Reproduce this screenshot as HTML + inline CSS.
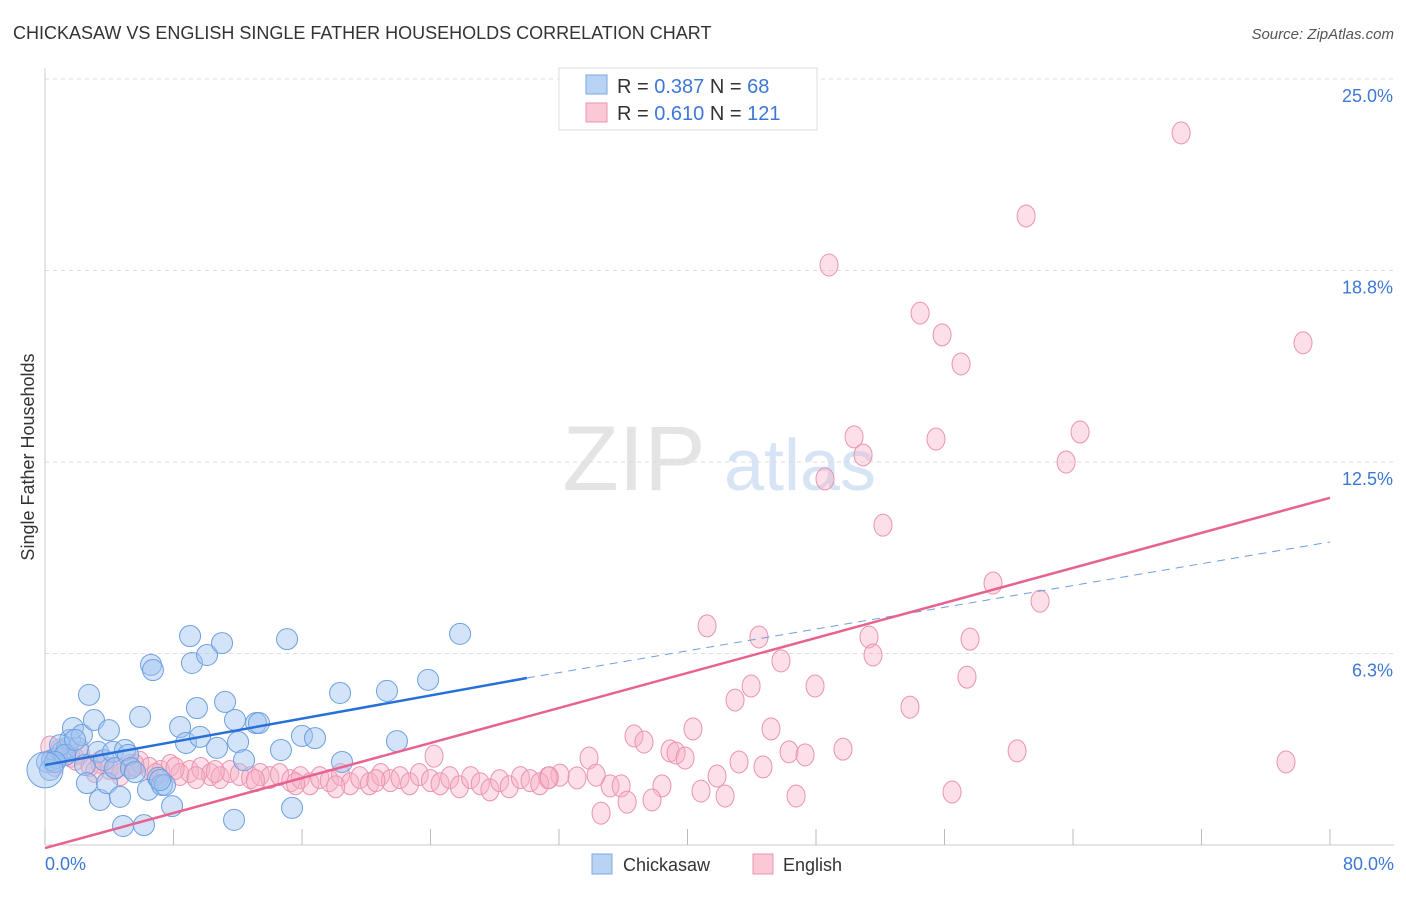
<!DOCTYPE html>
<html><head><meta charset="utf-8"><style>
body{margin:0;background:#fff;font-family:"Liberation Sans",sans-serif}
svg text{font-family:"Liberation Sans",sans-serif}
</style></head><body>
<svg id="chart" width="1406" height="892" viewBox="0 0 1406 892" xmlns="http://www.w3.org/2000/svg">
<text x="13" y="39" font-size="18" fill="#333">CHICKASAW VS ENGLISH SINGLE FATHER HOUSEHOLDS CORRELATION CHART</text>
<text x="1394" y="39" font-size="15" fill="#555" text-anchor="end" font-style="italic">Source: ZipAtlas.com</text>
<g>
<text x="634" y="490" font-size="92" fill="#e4e4e4" text-anchor="middle" font-family="Liberation Serif,serif">ZIP</text>
<text x="800" y="490" font-size="72" fill="#d6e4f6" text-anchor="middle">atlas</text>
</g>
<g id="grid"></g>
<g id="axes"></g>
<g id="pts"></g>
<g id="lines"></g>
<text transform="translate(34,457) rotate(-90)" font-size="18" fill="#333" text-anchor="middle">Single Father Households</text>
<g>
<rect x="559" y="68" width="258" height="62" fill="#fff" stroke="#ddd"/>
<rect x="586" y="75" width="21" height="19" fill="#b9d3f5" stroke="#7ba7e3"/>
<rect x="586" y="103" width="21" height="19" fill="#fbc8d6" stroke="#eb94b0"/>
<text x="617" y="93" font-size="20" fill="#333">R = <tspan fill="#3d78d6">0.387</tspan>   N =  <tspan fill="#3d78d6">68</tspan></text>
<text x="617" y="120" font-size="20" fill="#333">R = <tspan fill="#3d78d6">0.610</tspan>   N = <tspan fill="#3d78d6">121</tspan></text>
</g>
<g>
<rect x="592" y="854" width="20" height="20" fill="#b9d3f5" stroke="#7ba7e3"/>
<text x="623" y="871" font-size="18" fill="#333">Chickasaw</text>
<rect x="753" y="854" width="20" height="20" fill="#fbc8d6" stroke="#eb94b0"/>
<text x="783" y="871" font-size="18" fill="#333">English</text>
</g>
</svg>
<script>
const xTicks=[0,8,16,24,32,40,48,56,64,72,80];
const yTicks=[6.25,12.5,18.75,25];
const yTickLabels=["6.3%","12.5%","18.8%","25.0%"];
const xEndLabels=["0.0%","80.0%"];
const chickasaw=[[0.12,2.71],[0.44,2.77],[0.75,2.84],[1.06,3.04],[1.37,3.17],[1.56,3.43],[1.74,3.82],[2.05,3.17],[2.30,3.59],[2.49,2.61],[2.61,2.02],[2.74,4.90],[3.05,4.08],[3.30,3.04],[3.42,1.47],[3.67,2.77],[3.86,2.02],[3.98,3.75],[4.23,3.04],[4.36,2.51],[4.67,1.57],[4.86,0.62],[4.98,3.10],[5.17,2.94],[5.35,2.51],[5.60,2.38],[5.92,4.18],[6.16,0.65],[6.41,1.80],[6.60,5.88],[6.72,5.71],[7.04,2.19],[7.28,1.96],[7.47,1.96],[7.91,1.27],[8.41,3.85],[8.78,3.33],[9.03,6.82],[9.15,5.94],[9.46,4.47],[9.65,3.53],[10.09,6.20],[10.71,3.17],[11.02,6.59],[11.21,4.67],[11.83,4.08],[12.02,3.36],[11.77,0.82],[12.39,2.77],[13.14,3.98],[13.32,3.98],[14.69,3.10],[15.07,6.72],[15.38,1.21],[16.00,3.56],[16.81,3.49],[18.37,4.96],[18.49,2.71],[21.29,5.03],[21.91,3.39],[23.85,5.39],[25.84,6.89],[0.31,2.45],[0.93,3.26],[1.25,2.94],[1.87,3.43],[0.62,2.71],[7.16,2.12]];
const english=[[70.73,23.24],[61.08,20.53],[48.81,18.93],[54.48,17.36],[55.85,16.65],[57.03,15.70],[78.32,16.39],[50.37,13.32],[55.47,13.25],[64.44,13.48],[50.93,12.73],[63.57,12.50],[48.56,11.95],[52.17,10.44],[59.02,8.55],[61.95,7.96],[41.22,7.15],[44.45,6.79],[51.30,6.79],[57.59,6.72],[51.55,6.20],[45.82,6.01],[57.40,5.48],[43.96,5.19],[47.94,5.19],[42.96,4.73],[53.85,4.50],[40.34,3.79],[45.20,3.79],[36.67,3.56],[37.29,3.36],[38.91,3.07],[39.29,3.00],[39.85,2.84],[46.32,3.04],[47.32,2.94],[49.68,3.13],[60.52,3.07],[77.26,2.71],[33.87,2.84],[43.21,2.71],[44.70,2.55],[41.84,2.25],[38.41,1.93],[40.84,1.76],[42.34,1.60],[46.76,1.60],[56.47,1.73],[35.18,1.93],[35.87,1.93],[36.24,1.40],[37.79,1.47],[34.62,1.04],[24.22,2.90],[34.31,2.28],[33.12,2.19],[32.06,2.28],[31.32,2.19],
[0.3,3.2],[0.9,3.1],[1.6,2.9],[2.2,3.0],[2.8,2.6],[3.4,2.7],[4.0,2.5],[4.7,2.3],[5.3,2.6],[5.9,2.7],[6.5,2.5],[7.2,2.4],[7.8,2.6],[8.4,2.3],[9.0,2.4],[9.7,2.5],[10.3,2.3],[10.9,2.2],[11.5,2.4],[12.1,2.3],[12.8,2.2],[13.4,2.3],[14.0,2.2],[14.6,2.3],[15.3,2.1],[15.9,2.2],[16.5,2.0],[17.1,2.2],[17.7,2.1],[18.4,2.3],[19.0,2.0],[19.6,2.2],[20.2,2.0],[20.9,2.3],[21.5,2.1],[22.1,2.2],[22.7,2.0],[23.3,2.3],[24.0,2.1],[24.6,2.0],[25.2,2.2],[25.8,1.9],[26.5,2.2],[27.1,2.0],[27.7,1.8],[28.3,2.1],[28.9,1.9],[29.6,2.2],[30.2,2.1],[30.8,2.0],[31.4,2.2],[0.6,2.6],[1.9,2.8],[3.1,2.4],[4.4,2.5],[5.6,2.6],[6.9,2.3],[8.1,2.5],[9.4,2.2],[10.6,2.4],[13.1,2.1],[15.6,2.0],[18.1,1.9],[20.6,2.1]];
const chickasawTrend=[[0,2.61],[30,5.45],[80,9.89]];
const englishTrend=[[0,-0.1],[80,11.33]];
const NS="http://www.w3.org/2000/svg";
const X=v=>45+v/80*1285, Y=v=>845-v*30.64;
function mk(tag,at,parent){const e=document.createElementNS(NS,tag);for(const k in at)e.setAttribute(k,at[k]);parent.appendChild(e);return e;}
const grid=document.getElementById('grid'),axes=document.getElementById('axes'),pts=document.getElementById('pts'),lines=document.getElementById('lines');
yTicks.forEach((t,i)=>{
 const l=mk('line',{x1:45,x2:1394,y1:Y(t),y2:Y(t),stroke:'#ddd','stroke-dasharray':'4,4'},grid);
 
 
 const tx=mk('text',{x:1393,y:Y(t)+23,'font-size':18,fill:'#3d78d6','text-anchor':'end'},axes);
 tx.textContent=yTickLabels[i];
 
 
});
mk('line',{x1:45,x2:45,y1:68,y2:845,stroke:'#ccc'},axes);
mk('line',{x1:45,x2:1394,y1:845,y2:845,stroke:'#ccc'},axes);
xTicks.forEach(t=>{
 const l=mk('line',{x1:X(t),x2:X(t),y1:829,y2:845,stroke:'#bbb'},axes);
 
 
});
const xl0=mk('text',{x:45,y:870,'font-size':18,fill:'#3d78d6'},axes);xl0.textContent=xEndLabels[0];


const xl1=mk('text',{x:1394,y:870,'font-size':18,fill:'#3d78d6','text-anchor':'end'},axes);xl1.textContent=xEndLabels[1];


english.forEach(p=>{
 const c=mk('ellipse',{cx:X(p[0]),cy:Y(p[1]),rx:9,ry:11,fill:'rgba(248,175,198,0.4)',stroke:'#eb94b0','stroke-width':1},pts);
 
 
});
chickasaw.forEach(p=>{
 const c=mk('circle',{cx:X(p[0]),cy:Y(p[1]),r:10.5,fill:'rgba(160,196,240,0.45)',stroke:'#6d9fe0','stroke-width':1},pts);
 
 
});
const big=mk('circle',{cx:X(0),cy:Y(2.45),r:18,fill:'rgba(160,196,240,0.45)',stroke:'#6d9fe0'},pts);


const ct=chickasawTrend;
const b1=mk('line',{x1:X(ct[0][0]),y1:Y(ct[0][1]),x2:X(ct[1][0]),y2:Y(ct[1][1]),stroke:'#2670d8','stroke-width':2.5},lines);


const b2=mk('line',{x1:X(ct[1][0]),y1:Y(ct[1][1]),x2:X(ct[2][0]),y2:Y(ct[2][1]),stroke:'#6d9fe0','stroke-width':1,'stroke-dasharray':'8,6'},lines);


const et=englishTrend;
const p1=mk('line',{x1:X(et[0][0]),y1:Y(et[0][1]),x2:X(et[1][0]),y2:Y(et[1][1]),stroke:'#e8628f','stroke-width':2.5},lines);


</script>
</body></html>
